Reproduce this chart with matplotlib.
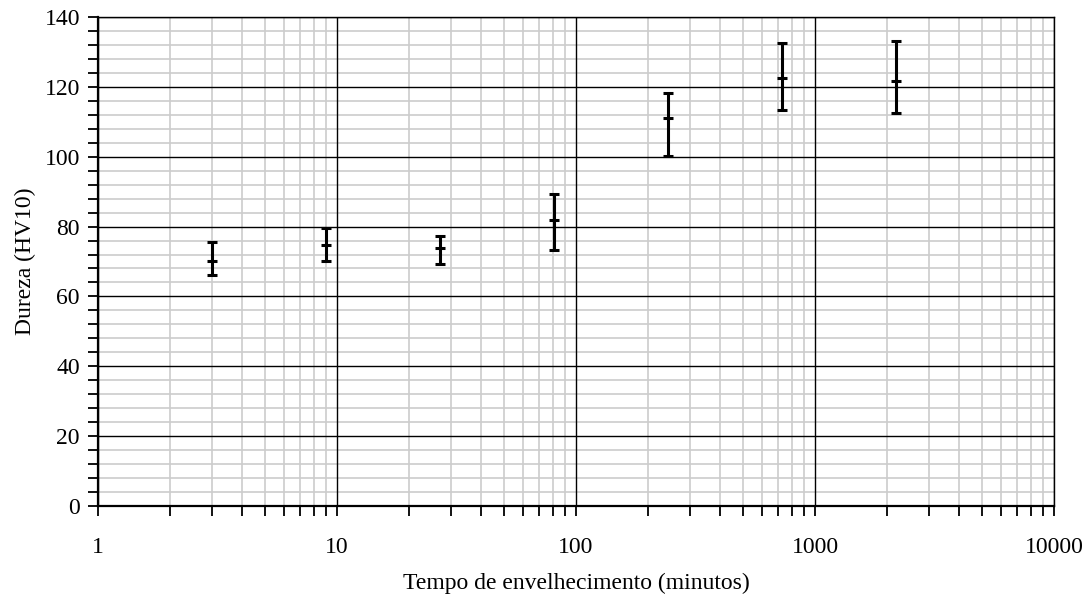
import numpy as np
import matplotlib.pyplot as plt
from matplotlib.ticker import MultipleLocator, LogLocator, FixedLocator, NullFormatter

# data
tempo = [3, 9, 27, 81, 243, 729, 2187]
dureza = [70.2, 74.7, 73.8, 81.8, 111.0, 122.5, 121.8]
dureza_max = [75.5, 79.7, 77.3, 89.2, 118.1, 132.5, 133.2]
dureza_min = [66.1, 70.1, 69.3, 73.3, 100.3, 113.3, 112.4]

x_ticks = [1, 10, 100, 1000, 10000]
x_labels = ['1', '10', '100', '1000', '10000']

plt.rcParams['font.family'] = ['Liberation Serif', 'DejaVu Serif']

fig = plt.figure(figsize=(10.9, 6.07), dpi=100)
ax = fig.add_axes([98 / 1090, 1 - 506 / 607, 956 / 1090, 489 / 607])

err_low = np.array(dureza) - np.array(dureza_min)
err_high = np.array(dureza_max) - np.array(dureza)
ax.errorbar(tempo, dureza, yerr=[err_low, err_high], fmt='none', ecolor='black',
            elinewidth=2.2, capsize=3.4, capthick=2.2, zorder=3)
# small mark at the mean value
ax.plot(tempo, dureza, linestyle='none', marker='_', markersize=6.5,
        markeredgewidth=2.2, color='black', zorder=3)

ax.set_xscale('log')
ax.set_xlim(1, 10000)
ax.set_ylim(0, 140)
ax.yaxis.set_major_locator(MultipleLocator(20))
ax.yaxis.set_minor_locator(MultipleLocator(4))
ax.xaxis.set_major_locator(FixedLocator(x_ticks))
ax.xaxis.set_minor_locator(LogLocator(base=10, subs=np.arange(2, 10)))
ax.xaxis.set_minor_formatter(NullFormatter())
ax.set_xticklabels(x_labels)

# light minor grid, black major grid on top of it
ax.grid(which='minor', color='#cccccc', linewidth=1.2)
ax.set_axisbelow(True)
for t in ax.get_xticks():
    ax.axvline(t, color='black', linewidth=1.0, zorder=1.5)
for t in ax.get_yticks():
    ax.axhline(t, color='black', linewidth=1.0, zorder=1.5)

for s in ax.spines.values():
    s.set_linewidth(1.0)
ax.spines['left'].set_linewidth(1.6)
ax.spines['bottom'].set_linewidth(1.6)

ax.tick_params(which='both', direction='out', length=7, width=1.3, labelsize=17)
ax.tick_params(axis='x', which='major', pad=15)
ax.tick_params(axis='y', which='major', pad=6)
ax.tick_params(top=False, right=False, which='both')

ax.set_xlabel('Tempo de envelhecimento (minutos)', fontsize=17, labelpad=11)
ax.set_ylabel('Dureza (HV10)', fontsize=17, labelpad=6)

fig.savefig('out.png', dpi=100)
